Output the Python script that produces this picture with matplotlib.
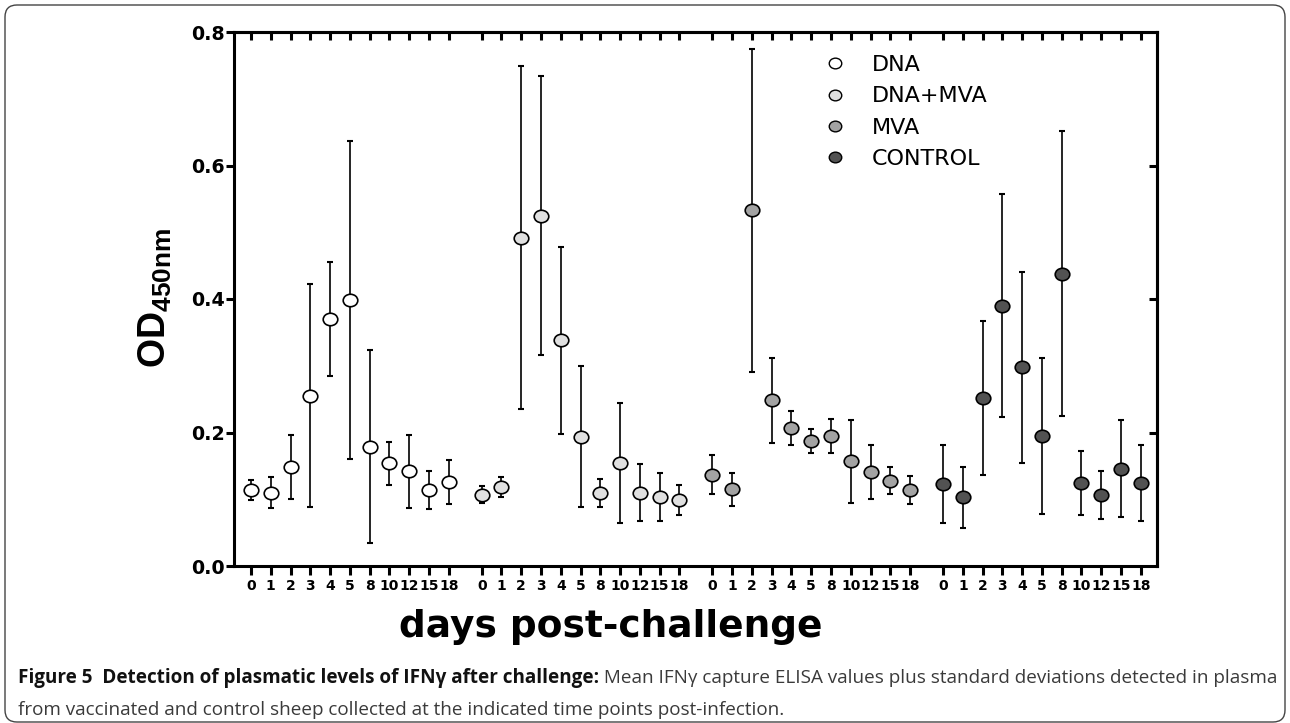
import numpy as np
import matplotlib
matplotlib.use('Agg')
import matplotlib.pyplot as plt
from matplotlib.path import Path
from matplotlib.lines import Line2D
from matplotlib.patches import FancyBboxPatch

# --- data ---
days = ['0', '1', '2', '3', '4', '5', '8', '10', '12', '15', '18']
groups = ['DNA', 'DNA+MVA', 'MVA', 'CONTROL']
fills = ['#ffffff', '#e0e0e0', '#a3a3a3', '#525252']

dna_mean = [0.114, 0.110, 0.148, 0.255, 0.370, 0.398, 0.179, 0.154, 0.142, 0.114, 0.126]
dna_sd = [0.015, 0.023, 0.048, 0.167, 0.085, 0.238, 0.144, 0.032, 0.055, 0.028, 0.033]

dnamva_mean = [0.107, 0.119, 0.492, 0.525, 0.338, 0.194, 0.109, 0.154, 0.110, 0.104, 0.099]
dnamva_sd = [0.013, 0.015, 0.257, 0.209, 0.140, 0.105, 0.021, 0.090, 0.043, 0.036, 0.023]

mva_mean = [0.137, 0.115, 0.533, 0.248, 0.207, 0.187, 0.195, 0.157, 0.141, 0.128, 0.114]
mva_sd = [0.029, 0.025, 0.242, 0.064, 0.025, 0.018, 0.025, 0.062, 0.041, 0.020, 0.021]

control_mean = [0.123, 0.103, 0.252, 0.390, 0.298, 0.195, 0.438, 0.124, 0.107, 0.146, 0.124]
control_sd = [0.059, 0.046, 0.115, 0.167, 0.143, 0.117, 0.213, 0.048, 0.036, 0.072, 0.057]

means = [dna_mean, dnamva_mean, mva_mean, control_mean]
sds = [dna_sd, dnamva_sd, mva_sd, control_sd]

plt.rcParams['mathtext.fontset'] = 'custom'
plt.rcParams['mathtext.rm'] = 'Liberation Sans'
plt.rcParams['mathtext.bf'] = 'Liberation Sans:bold'

W, H = 1290, 723
fig = plt.figure(figsize=(W / 100, H / 100), dpi=100)

# axes box in pixel coords of the picture
ax_l, ax_r, ax_t, ax_b = 234, 1157, 32, 566
ax = fig.add_axes([ax_l / W, 1 - ax_b / H, (ax_r - ax_l) / W, (ax_b - ax_t) / H])

# circles in the source are stretched sideways
circ = Path.unit_circle()
ellipse = Path(circ.vertices * [1.17, 1.0], circ.codes)

gap = 11.67  # distance between first points of two groups
positions = []
for g, (m, s) in enumerate(zip(means, sds)):
    x = np.arange(len(days)) + g * gap
    positions.extend(x)
    ax.errorbar(x, m, yerr=s, fmt='none', ecolor='black', elinewidth=1.2,
                capsize=2.3, capthick=1.5, zorder=2)
    ax.plot(x, m, linestyle='none', marker=ellipse, markersize=10.5,
            markerfacecolor=fills[g], markeredgecolor='black',
            markeredgewidth=1.2, zorder=3)

ax.set_xlim(-0.86, 3 * gap + 10 + 0.82)
ax.set_ylim(0, 0.8)
ax.set_yticks([0.0, 0.2, 0.4, 0.6, 0.8])
ax.set_yticklabels(['0.0', '0.2', '0.4', '0.6', '0.8'])
ax.set_xticks(positions, labels=days * len(groups))

for sp in ax.spines.values():
    sp.set_linewidth(2.2)

ax.tick_params(axis='y', direction='out', length=5.8, width=2.2, pad=1,
               labelsize=13.7)
ax.tick_params(axis='x', direction='out', length=6.5, width=2.2, pad=3,
               labelsize=10)
for lab in ax.get_xticklabels() + ax.get_yticklabels():
    lab.set_fontweight('bold')

# inward ticks on top and right
top = ax.secondary_xaxis('top')
top.set_xticks(positions, labels=[''] * len(positions))
top.tick_params(direction='in', length=6, width=2.2)
top.spines['top'].set_linewidth(2.2)

right = ax.secondary_yaxis('right')
right.set_yticks([0.2, 0.4, 0.6], labels=['', '', ''])
right.tick_params(direction='in', length=6, width=2.2)
right.spines['right'].set_linewidth(2.2)

# legend
handles = [Line2D([], [], linestyle='none', marker=ellipse, markersize=9,
                  markerfacecolor=fills[g], markeredgecolor='black',
                  markeredgewidth=1.0) for g in range(len(groups))]
fig.legend(handles, groups, loc='upper left', bbox_to_anchor=(824 / W, 1 - 55 / H),
           bbox_transform=fig.transFigure, frameon=False, fontsize=16,
           handlelength=1.0, handletextpad=1.17, labelspacing=0.51,
           borderpad=0, borderaxespad=0)

# axis titles
fig.text(155 / W, 1 - 298 / H, r'$\mathbf{OD_{450nm}}$', rotation=90,
         ha='center', va='center', fontsize=27)
fig.text(611 / W, 1 - 627 / H, 'days post-challenge', ha='center', va='center',
         fontsize=27, fontweight='bold')

# caption
cap_font = ['Open Sans', 'DejaVu Sans']
x0 = 18
t1 = fig.text(x0 / W, 1 - 683 / H,
              'Figure 5  Detection of plasmatic levels of IFN\u03b3 after challenge:',
              family=cap_font, fontweight='bold', color='#111111',
              fontsize=13, va='baseline', ha='left')
t2 = fig.text(0, 1 - 683 / H,
              ' Mean IFN\u03b3 capture ELISA values plus standard deviations detected in plasma',
              family=cap_font, color='#3a3a3a', fontsize=13, va='baseline', ha='left')
renderer = fig.canvas.get_renderer()
w_total = t1.get_window_extent(renderer).width + t2.get_window_extent(renderer).width
size = 13 * (1270 - x0) / w_total
t1.set_fontsize(size)
t2.set_fontsize(size)
w1 = t1.get_window_extent(renderer).width
t2.set_x((x0 + w1) / W)
fig.text(x0 / W, 1 - 715 / H,
         'from vaccinated and control sheep collected at the indicated time points post-infection.',
         family=cap_font, color='#3a3a3a', fontsize=size, va='baseline', ha='left')

# rounded frame around the figure panel
frame = FancyBboxPatch((5, 1), 1280, 717, boxstyle='round,pad=0,rounding_size=12',
                       transform=None, facecolor='none', edgecolor='#444444',
                       linewidth=1.0)
fig.patches.append(frame)

fig.savefig('out.png', dpi=100)
